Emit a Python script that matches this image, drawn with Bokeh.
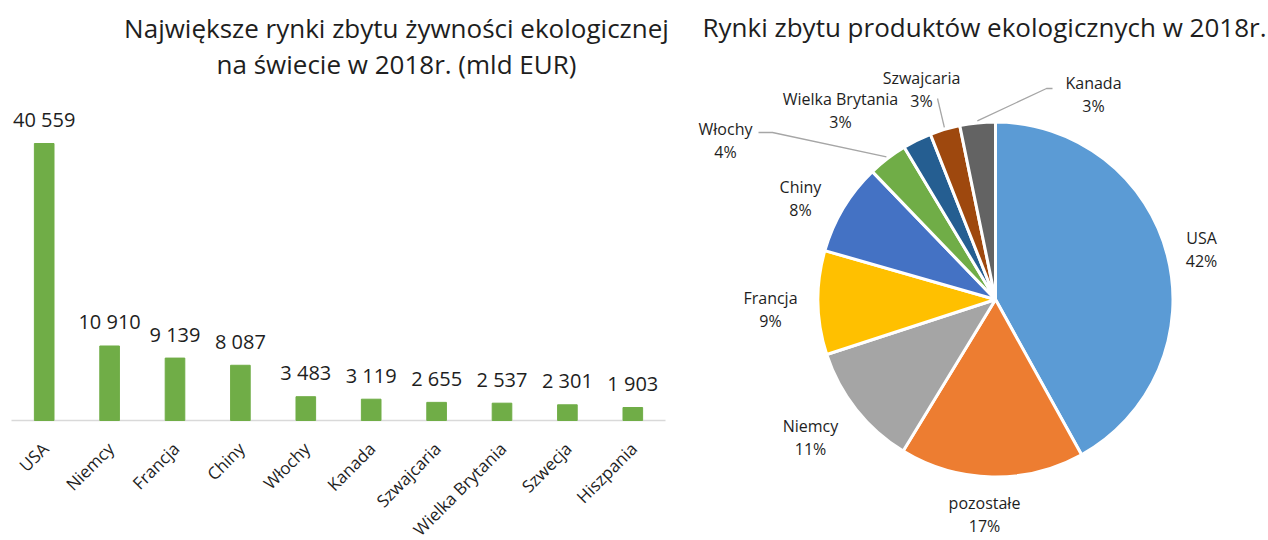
import math
from bokeh.plotting import figure
from bokeh.models import FactorRange, Range1d, Label, ColumnDataSource
from bokeh.layouts import row
from bokeh.embed import file_html
from bokeh.resources import INLINE
from bokeh.core.properties import value

# ---------------- data ----------------
countries = ["USA", "Niemcy", "Francja", "Chiny", "Włochy", "Kanada",
             "Szwajcaria", "Wielka Brytania", "Szwecja", "Hiszpania"]
sales = [40559, 10910, 9139, 8087, 3483, 3119, 2655, 2537, 2301, 1903]

pie_names = ["USA", "pozostałe", "Niemcy", "Francja", "Chiny", "Włochy",
             "Wielka Brytania", "Szwajcaria", "Kanada"]
pie_values = [40559, 16211, 10910, 9139, 8087, 3483, 2537, 2655, 3119]
pie_colors = ["#5B9BD5", "#ED7D31", "#A5A5A5", "#FFC000", "#4472C4",
              "#70AD47", "#255E91", "#9E480E", "#636363"]

title_left = ["Największe rynki zbytu żywności ekologicznej",
              "na świecie w 2018r. (mld EUR)"]
title_right = "Rynki zbytu produktów ekologicznych w 2018r."

# ---------------- style ----------------
FONT = "Open Sans"
TXT = "#1e1e1e"
BAR = "#70AD47"
H = 540

# ---------------- left: bar chart ----------------
W1 = 676
AXIS_L = 11        # page x where the category axis starts
CAT_W = 65.4       # px per category
BASE_Y = 420       # page y of the baseline
K = 40559 / 277.0  # value units per pixel

def x1(px):
    return (px - AXIS_L) / CAT_W

def y1(py):
    return (BASE_Y - py) * K

p1 = figure(x_range=FactorRange(factors=countries, range_padding=AXIS_L / CAT_W,
                                range_padding_units="absolute"),
            y_range=Range1d(-(H - BASE_Y) * K, BASE_Y * K),
            width=W1, height=H, min_border=0,
            x_axis_location=None, y_axis_location=None,
            toolbar_location=None, output_backend="svg")
p1.outline_line_color = None
p1.grid.grid_line_color = None

labels = [f"{v:,}".replace(",", " ") for v in sales]
src = ColumnDataSource(dict(x=countries, top=sales, lab=labels, zero=[0] * len(sales)))

# category axis line
p1.segment(x0=[0], y0=[0], x1=[len(countries)], y1=[0], line_color="#D9D9D9", line_width=1.5)
p1.vbar(x="x", top="top", width=0.30, source=src, fill_color=BAR, line_color=BAR)
p1.text(x="x", y="top", text="lab", source=src, text_align="center",
        text_baseline="middle", y_offset=-24, text_font=value(FONT),
        text_font_size="20px", text_color=TXT)
# category labels (rotated 45°)
p1.text(x="x", y="zero", text="x", source=src, angle=math.pi / 4,
        text_align="right", text_baseline="middle", y_offset=25, x_offset=1,
        text_font=value(FONT), text_font_size="17px", text_color=TXT)

for t, py in zip(title_left, [27, 63]):
    p1.add_layout(Label(x=x1(396), y=y1(py), text=t, text_align="center",
                        text_baseline="middle", text_font=FONT,
                        text_font_size="26px", text_color=TXT))

# ---------------- right: pie chart ----------------
P2_X0 = W1
W2 = 590

def fx(px):
    return px - P2_X0

def fy(py):
    return H - py

p2 = figure(x_range=Range1d(0, W2), y_range=Range1d(0, H),
            width=W2, height=H, min_border=0,
            x_axis_location=None, y_axis_location=None,
            toolbar_location=None, output_backend="svg")
p2.outline_line_color = None
p2.grid.grid_line_color = None

CX, CY, R = fx(995), fy(299), 177.5
total = float(sum(pie_values))
starts, ends, mids = [], [], []
cum = 0.0
for v in pie_values:
    a0 = math.pi / 2 - 2 * math.pi * cum / total
    cum += v
    a1 = math.pi / 2 - 2 * math.pi * cum / total
    starts.append(a0)
    ends.append(a1)
    mids.append((a0 + a1) / 2)

p2.wedge(x=CX, y=CY, radius=R, start_angle=starts, end_angle=ends,
         direction="clock", fill_color=pie_colors, line_color="white",
         line_width=3)

# leader lines (label side points, page coords) -> slice edge
leaders = {"Włochy": [(758, 132), (772, 132)],
           "Szwajcaria": [(937, 98)],
           "Kanada": [(1052, 88), (1046, 88)]}
for name, pts in leaders.items():
    i = pie_names.index(name)
    ex = CX + (R + 2) * math.cos(mids[i])
    ey = CY + (R + 2) * math.sin(mids[i])
    xs = [fx(p[0]) for p in pts] + [ex]
    ys = [fy(p[1]) for p in pts] + [ey]
    p2.line(xs, ys, line_color="#A6A6A6", line_width=1.3)

# label positions (page coords, center of name line)
label_pos = {"USA": (1201, 237), "pozostałe": (984, 502), "Niemcy": (810, 425),
             "Francja": (770, 297), "Chiny": (800, 186), "Włochy": (725, 128),
             "Wielka Brytania": (840, 98), "Szwajcaria": (921, 77),
             "Kanada": (1093, 82)}
for name, v in zip(pie_names, pie_values):
    px, py = label_pos[name]
    pct = f"{round(100 * v / total)}%"
    for t, dy in ((name, 0), (pct, 23)):
        p2.add_layout(Label(x=fx(px), y=fy(py + dy), text=t, text_align="center",
                            text_baseline="middle", text_font=FONT,
                            text_font_size="16px", text_color=TXT))

p2.add_layout(Label(x=fx(984), y=fy(26), text=title_right, text_align="center",
                    text_baseline="middle", text_font=FONT,
                    text_font_size="26px", text_color=TXT))

layout = row(p1, p2)
open("out.html", "w").write(file_html(layout, INLINE))
